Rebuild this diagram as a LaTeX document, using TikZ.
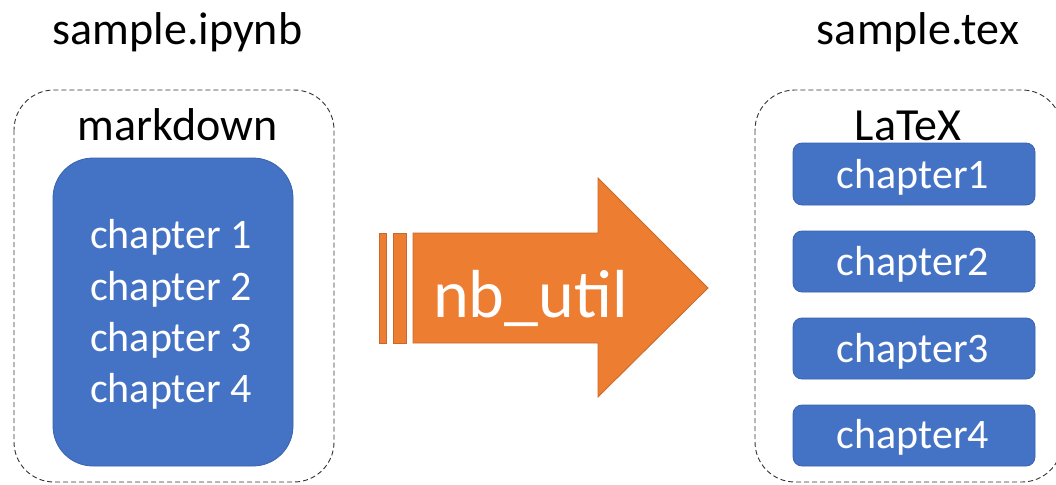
\documentclass[tikz,border=0pt]{standalone}
\usepackage{fontspec}
\setmainfont{Carlito}
\definecolor{boxblue}{HTML}{4472C4}
\definecolor{boxblueline}{HTML}{3A63AE}
\definecolor{arroworange}{HTML}{ED7D31}
\definecolor{arrowline}{HTML}{C8682A}
\tikzset{
  title/.style={anchor=base, font=\fontsize{46}{50}\selectfont, text=black, inner sep=0pt},
  container/.style={draw=black!80, dash pattern=on 5pt off 3pt, line width=0.9pt, rounded corners=40pt, fill=none},
  bigblue/.style={fill=boxblue, draw=boxblueline, line width=0.8pt, rounded corners=40pt},
  smallblue/.style={fill=boxblue, draw=boxblueline, line width=0.8pt, rounded corners=9pt},
  chaptext/.style={anchor=base, text=white, font=\fontsize{42}{46}\selectfont, inner sep=0pt},
  orangeshape/.style={fill=arroworange, draw=arrowline, line width=0.8pt},
}
\begin{document}
\begin{tikzpicture}[x=1pt,y=-1pt]
\useasboundingbox (0,0) rectangle (1056,484);
\begin{scope}
\clip (0,0) rectangle (1056,484);
% titles
\node[title] (t1) at (177.5,45) {sample.ipynb};
\node[title] (t2) at (918,45) {sample.tex};
% left container
\draw[container] (14,90) rectangle (334,482);
\node[title] (md) at (177.5,140) {markdown};
\draw[bigblue] (53,158) rectangle (293,466);
\node[chaptext] (c1) at (171,248) {chapter 1};
\node[chaptext] (c2) at (171,300) {chapter 2};
\node[chaptext] (c3) at (171,351) {chapter 3};
\node[chaptext] (c4) at (171,402) {chapter 4};
% arrow
\fill[orangeshape] (379,233) rectangle (386,343);
\fill[orangeshape] (393,233) rectangle (406,343);
\filldraw[orangeshape] (413,233) -- (598,233) -- (598,178) -- (708,288) -- (598,397) -- (598,343) -- (413,343) -- cycle;
\draw[arrowline, line width=0.8pt] (379,233) rectangle (386,343);
\draw[arrowline, line width=0.8pt] (393,233) rectangle (406,343);
\node[anchor=base, text=white, font=\fontsize{68}{72}\selectfont, inner sep=0pt] (nb) at (530.5,317) {nb\_util};
% right container
\draw[container] (755,90) rectangle (1062,482);
\node[title] (lx) at (908,140) {LaTeX};
\draw[smallblue] (793,143) rectangle (1035,205);
\draw[smallblue] (793,231) rectangle (1035,292);
\draw[smallblue] (793,318) rectangle (1035,379);
\draw[smallblue] (793,405) rectangle (1035,466);
\node[chaptext] (r1) at (913,188) {chapter1};
\node[chaptext] (r2) at (913,275) {chapter2};
\node[chaptext] (r3) at (913,362) {chapter3};
\node[chaptext] (r4) at (913,448) {chapter4};
\end{scope}
\end{tikzpicture}
\end{document}
